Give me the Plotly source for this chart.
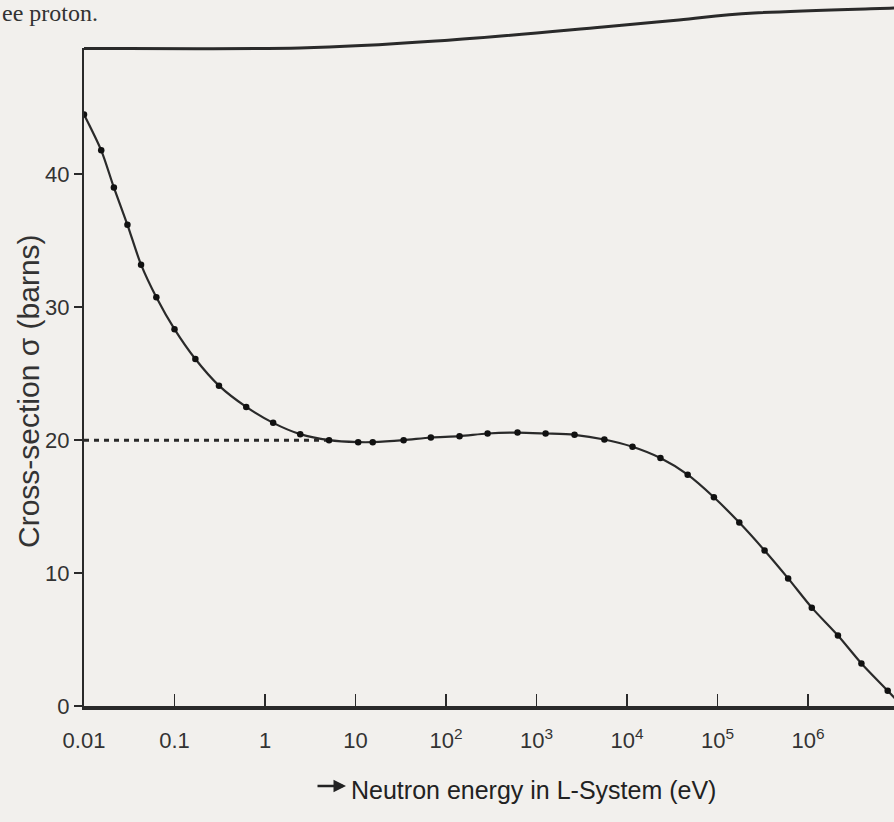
import plotly.graph_objects as go

# ---- data (n-p scattering cross-section) ----
energy_ev = [0.01, 0.0155, 0.0214, 0.0302, 0.0427, 0.063, 0.1, 0.17, 0.31, 0.62,
             1.23, 2.45, 5.1, 10.7, 15.5, 34, 68, 141, 288, 617,
             1260, 2630, 5620, 11500, 23400, 46800, 91200, 174000, 331000, 603000,
             1.10e6, 2.14e6, 3.89e6, 7.59e6, 1.1e7]
sigma_barns = [44.5, 41.8, 39.0, 36.2, 33.2, 30.75, 28.35, 26.1, 24.1, 22.5,
               21.3, 20.45, 20.0, 19.85, 19.85, 20.0, 20.2, 20.3, 20.5, 20.57,
               20.5, 20.4, 20.05, 19.5, 18.65, 17.4, 15.7, 13.8, 11.7, 9.6,
               7.4, 5.3, 3.2, 1.15, 0.0]
ref_energy = [0.01, 5.1]
ref_sigma = [20, 20]
x_tickvals = [0.01, 0.1, 1, 10, 100, 1e3, 1e4, 1e5, 1e6]
x_ticktext = ["0.01", "0.1", "1", "10", "10<sup>2</sup>", "10<sup>3</sup>",
              "10<sup>4</sup>", "10<sup>5</sup>", "10<sup>6</sup>"]
y_tickvals = [0, 10, 20, 30, 40]

W, H = 894, 822
L, R, T, B = 84, 0, 48, 116
PW, PH = W - L - R, H - T - B


def px(X):
    return (X - L) / PW


def py(Y):
    return (H - B - Y) / PH


FONT = "Liberation Sans, Arial, Helvetica, sans-serif"
INK = "#2a2a2a"
BG = "#f2f0ed"

fig = go.Figure()
fig.add_trace(go.Scatter(x=ref_energy, y=ref_sigma, mode="lines",
                         line=dict(color=INK, width=3, dash="5px,5px"),
                         hoverinfo="skip", showlegend=False))
fig.add_trace(go.Scatter(x=energy_ev, y=sigma_barns, mode="lines",
                         line=dict(color=INK, width=2.2, shape="spline", smoothing=0.8),
                         showlegend=False))
fig.add_trace(go.Scatter(x=energy_ev[:-1], y=sigma_barns[:-1], mode="markers",
                         marker=dict(color="#111111", size=6.5),
                         showlegend=False))

# top border of the figure box (curved on the scanned page)
pts = [(84, 48.5), (300, 48), (451, 40), (603, 27), (679, 20), (754, 13), (894, 8)]
path = f"M {px(pts[0][0])},{py(pts[0][1])}"
for i in range(len(pts) - 1):
    p0 = pts[i - 1] if i > 0 else pts[i]
    p1 = pts[i]
    p2 = pts[i + 1]
    p3 = pts[i + 2] if i + 2 < len(pts) else pts[i + 1]
    c1 = (p1[0] + (p2[0] - p0[0]) / 6, p1[1] + (p2[1] - p0[1]) / 6)
    c2 = (p2[0] - (p3[0] - p1[0]) / 6, p2[1] - (p3[1] - p1[1]) / 6)
    path += (f" C {px(c1[0])},{py(c1[1])} {px(c2[0])},{py(c2[1])} "
             f"{px(p2[0])},{py(p2[1])}")

fig.update_layout(
    width=W, height=H,
    margin=dict(l=L, r=R, t=T, b=B),
    paper_bgcolor=BG, plot_bgcolor=BG,
    font=dict(family=FONT, color="#333333", size=22),
    shapes=[dict(type="path", path=path, xref="paper", yref="paper",
                 line=dict(color=INK, width=3))],
    annotations=[
        dict(text="Cross-section σ (barns)", textangle=-90, x=px(29), y=py(391),
             xref="paper", yref="paper", xanchor="center", yanchor="middle",
             showarrow=False, font=dict(family=FONT, size=30, color="#333333")),
        dict(text="Neutron energy in L-System (eV)", x=px(533), y=py(790),
             xref="paper", yref="paper", xanchor="center", yanchor="middle",
             showarrow=False, font=dict(family=FONT, size=25, color="#222222")),
        dict(text="", x=px(346), y=py(786), xref="paper", yref="paper",
             showarrow=True, ax=-30, ay=0, arrowhead=2, arrowsize=1,
             arrowwidth=2.5, arrowcolor="#222222"),
        dict(text="ee proton.", x=px(0), y=py(-2), xref="paper", yref="paper",
             xanchor="left", yanchor="top", showarrow=False,
             font=dict(family="Liberation Serif, Times New Roman, serif",
                       size=24, color="#333333")),
    ],
)
fig.update_xaxes(type="log", range=[-2, 6.95], tickvals=x_tickvals, ticktext=x_ticktext,
                 ticks="inside", ticklen=12, tickwidth=1.5, tickcolor=INK,
                 showline=True, linewidth=3.5, linecolor=INK, showgrid=False,
                 zeroline=False, ticklabelstandoff=12)
fig.update_yaxes(range=[0, 49.5], tickvals=y_tickvals, ticks="outside", ticklen=8,
                 tickwidth=2, tickcolor=INK, showline=True, linewidth=2,
                 linecolor=INK, showgrid=False, zeroline=False)

fig.write_html("out.html",
               config={"displayModeBar": False, "staticPlot": True},
               post_script="document.body.style.margin='0px';"
                           "document.body.style.background='" + BG + "';")
